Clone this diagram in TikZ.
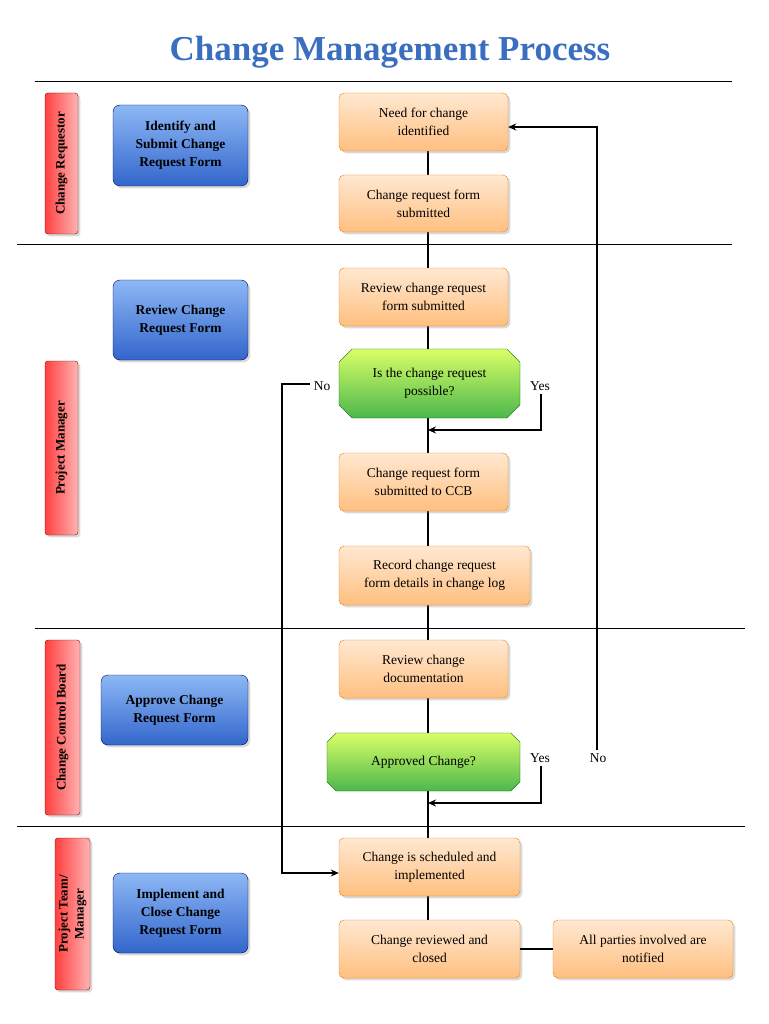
\documentclass[tikz,border=0pt]{standalone}
\usepackage{fontspec}
\setmainfont{Liberation Serif}
\usetikzlibrary{shapes.misc,arrows.meta,shadows}
\definecolor{titleblue}{HTML}{3A6EC0}
\definecolor{bluetop}{HTML}{8DB8F5}
\definecolor{bluebot}{HTML}{3366CC}
\begin{document}
\begin{tikzpicture}[x=1pt,y=-1pt,
 orange/.style={rounded corners=5pt,draw=orange!70!brown,top color=orange!18,bottom color=orange!50,align=center,font=\fontsize{13.5}{18}\selectfont,drop shadow={opacity=0.3}},
 blue/.style={rounded corners=7pt,draw=blue!40!black,top color=bluetop,bottom color=bluebot,align=center,font=\bfseries\fontsize{13.5}{18}\selectfont,drop shadow={opacity=0.3}},
 red/.style={rounded corners=3pt,draw=red!50!black,left color=red!75,right color=red!30,font=\bfseries\fontsize{13}{16}\selectfont,align=center,drop shadow={opacity=0.3}},
 green/.style={chamfered rectangle,chamfered rectangle xsep=10pt,draw=green!40!black,top color=green!25!yellow!60,bottom color=green!60!black!70,align=center,font=\fontsize{13.5}{18}\selectfont,inner sep=0pt},
 conn/.style={line width=1.6pt},
 arr/.style={line width=1.6pt,-{Stealth[length=8pt,width=7pt]}},
 lbl/.style={font=\fontsize{13.5}{16}\selectfont}]
\useasboundingbox (0,0) rectangle (768,1024);
\node[font=\bfseries\fontsize{35}{38}\selectfont,text=titleblue] (title) at (390,52) {Change Management Process};
% lane lines
\draw[line width=0.6pt] (35,81) -- (732,81);
\draw[line width=0.6pt] (17,244) -- (732,244);
\draw[line width=0.6pt] (35,628) -- (745,628);
\draw[line width=0.6pt] (17,826) -- (745,826);
% lane labels
\node[red,minimum width=141pt,minimum height=33pt,rotate=90] (l1) at (61.5,163.5) {Change Requestor};
\node[red,minimum width=174pt,minimum height=33pt,rotate=90] (l2) at (61.5,448) {Project Manager};
\node[red,minimum width=175pt,minimum height=35pt,rotate=90] (l3) at (62.5,727.5) {Change Control Board};
\node[red,minimum width=152pt,minimum height=35pt,rotate=90] (l4) at (72.5,914) {Project Team/\\Manager};
% blue
\node[blue,minimum width=135pt,minimum height=81pt] (b1) at (180.5,145.5) {Identify and\\Submit Change\\Request Form};
\node[blue,minimum width=135pt,minimum height=80pt] (b2) at (180.5,320) {Review Change\\Request Form};
\node[blue,minimum width=147pt,minimum height=70pt] (b3) at (174.5,710) {Approve Change\\Request Form};
\node[blue,minimum width=135pt,minimum height=80pt] (b4) at (180.5,913) {Implement and\\Close Change\\Request Form};
% spine
\coordinate (top) at (428,151);
\coordinate (bot) at (428,920);
\draw[conn] (top) -- (bot);
% orange
\node[orange,minimum width=169pt,minimum height=58pt] (o1) at (423.5,122) {Need for change\\identified};
\node[orange,minimum width=169pt,minimum height=57pt] (o2) at (423.5,203.5) {Change request form\\submitted};
\node[orange,minimum width=169pt,minimum height=58pt] (o3) at (423.5,297) {Review change request\\form submitted};
\node[green,minimum width=181pt,minimum height=69pt] (g1) at (429.5,383.5) {Is the change request\\possible?};
\node[orange,minimum width=169pt,minimum height=58pt] (o4) at (423.5,482) {Change request form\\submitted to CCB};
\node[orange,minimum width=191pt,minimum height=59pt] (o5) at (434.5,575.5) {Record change request\\form details in change log};
\node[orange,minimum width=169pt,minimum height=58pt] (o6) at (423.5,669) {Review change\\documentation};
\node[green,minimum width=193pt,minimum height=58pt] (g2) at (423.5,762) {Approved Change?};
\node[orange,minimum width=181pt,minimum height=58pt] (o7) at (429.5,867) {Change is scheduled and\\implemented};
\node[orange,minimum width=181pt,minimum height=58pt] (o8) at (429.5,949) {Change reviewed and\\closed};
\node[orange,minimum width=180pt,minimum height=58pt] (o9) at (643,949) {All parties involved are\\notified};
\draw[conn] (o8) -- (o9);
% yes loops
\node[lbl] (y1) at (540,386) {Yes};
\coordinate (y1j) at (428,430);
\draw[arr] (y1.south -| 541,0) -- (541,430) -- (y1j);
\node[lbl] (y2) at (540,758) {Yes};
\coordinate (y2j) at (428,803);
\draw[arr] (y2.south -| 541,0) -- (541,803) -- (y2j);
% no loops
\node[lbl] (n1) at (322,386) {No};
\draw[arr] (n1.west |- 0,384) -- (282,384) -- (282,873) -- (o7.west|-0,873);
\node[lbl] (n2) at (598,758) {No};
\draw[arr] (n2.north -| 597,0) -- (597,127) -- (o1.east|-0,127);
\end{tikzpicture}
\end{document}
